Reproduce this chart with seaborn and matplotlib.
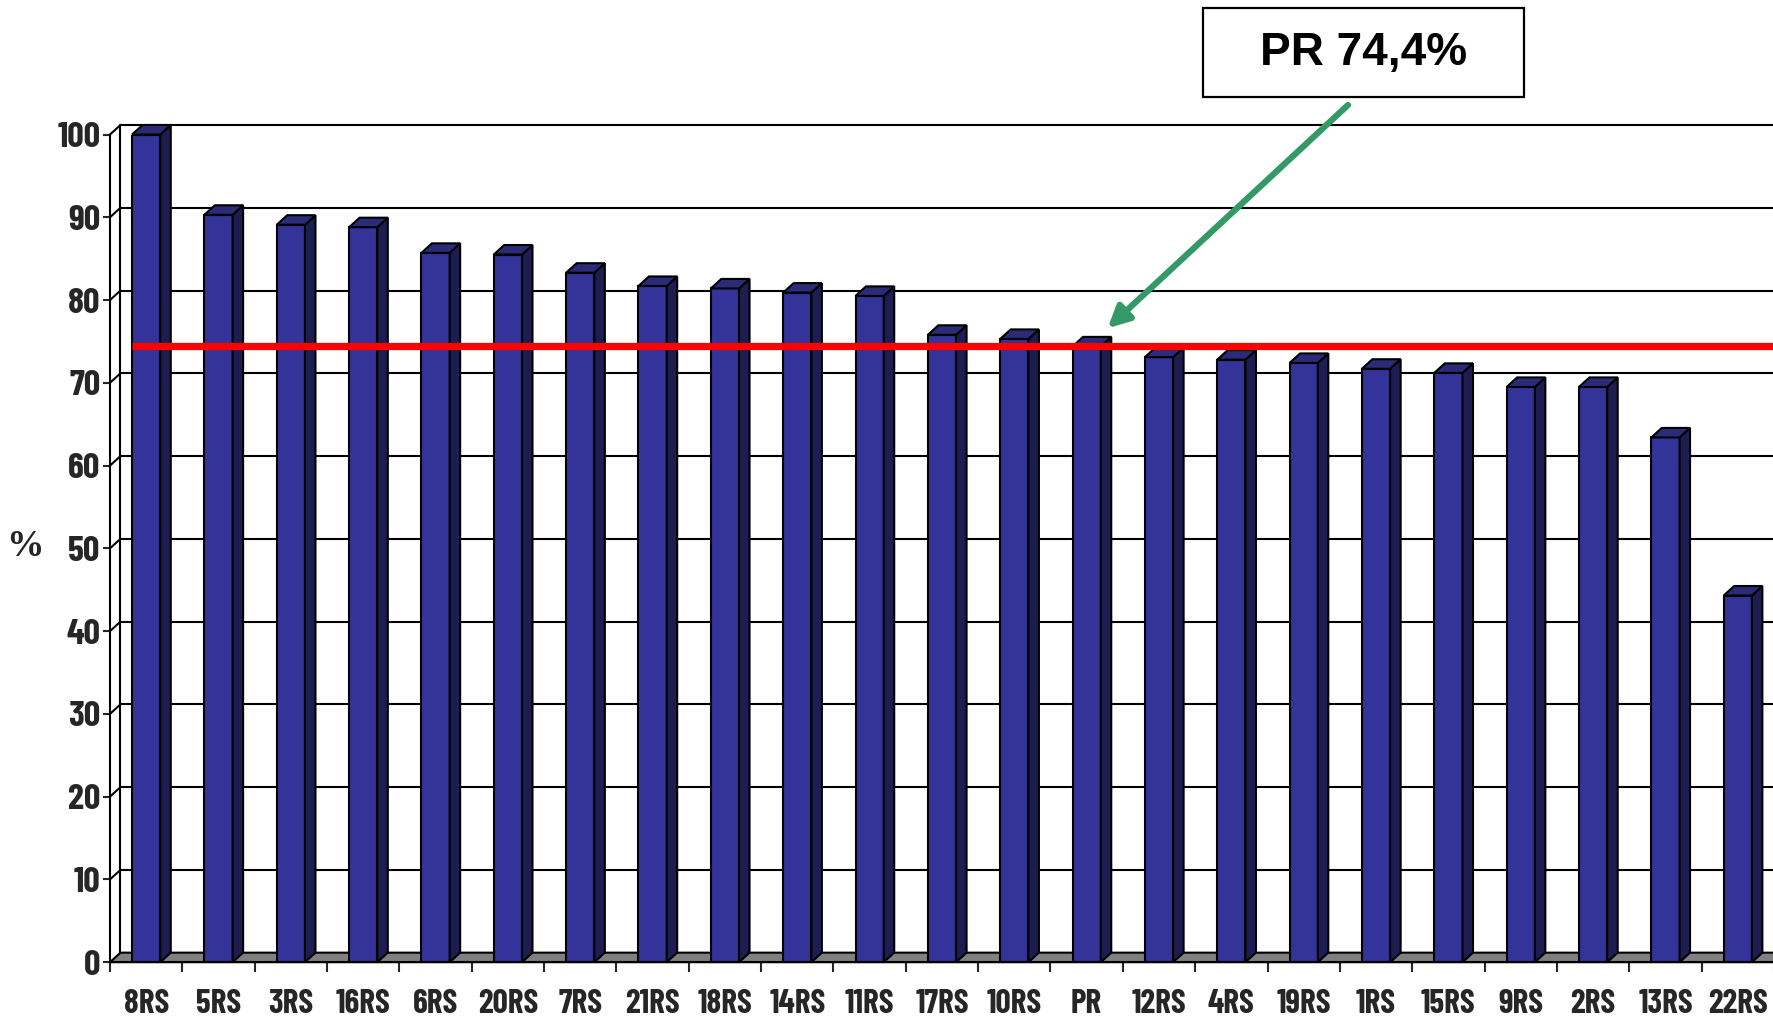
import numpy as np
import pandas as pd
import matplotlib
matplotlib.use("Agg")
import matplotlib.pyplot as plt
from matplotlib.patches import Polygon, Rectangle
import seaborn as sns

# Share of each site, sorted descending; "PR" is the overall regional figure
categories = ["8RS", "5RS", "3RS", "16RS", "6RS", "20RS", "7RS", "21RS", "18RS",
              "14RS", "11RS", "17RS", "10RS", "PR", "12RS", "4RS", "19RS", "1RS",
              "15RS", "9RS", "2RS", "13RS", "22RS"]
values = [100.0, 90.3, 89.1, 88.8, 85.7, 85.5, 83.3, 81.7, 81.4, 80.9, 80.5,
          75.8, 75.3, 74.4, 73.1, 72.8, 72.4, 71.7, 71.2, 69.5, 69.5, 63.4, 44.3]
y_ticks = list(range(0, 101, 10))
pr_value = 74.4
pr_label = "PR 74,4%"
y_label = "%"

df = pd.DataFrame({"site": categories, "value": values})

sns.set_style("white")
narrow = ["Barlow Condensed", "DejaVu Sans"]
plt.rcParams["font.family"] = narrow

FRONT = "#333399"
SIDE = "#1d1d52"
TOP = "#2b2b78"
DX, DY = 0.145, 1.15          # depth offset of the pseudo-3D back plane

fig = plt.figure(figsize=(17.73, 10.26), dpi=100)
ax = fig.add_axes([0.06204, 0.0622, 0.9385, 0.8067])
n = len(categories)

# front faces
sns.barplot(data=df, x="site", y="value", color=FRONT, saturation=1, width=0.39,
            edgecolor="black", linewidth=1.5, ax=ax, zorder=3)
bar_patches = list(ax.patches)
ax.set_xlim(-0.5, n - 0.5)
ax.set_ylim(0, 100)

# back wall, left wall and floor
for t in y_ticks[1:]:
    ax.plot([-0.5 + DX, n - 0.5 + DX], [t + DY, t + DY], color="black",
            lw=1.5, zorder=1, clip_on=False, solid_capstyle="butt")
    ax.plot([-0.5, -0.5 + DX], [t, t + DY], color="black", lw=1.5,
            zorder=1, clip_on=False)
ax.plot([-0.5 + DX, -0.5 + DX], [DY, 100 + DY], color="black", lw=1.5,
        zorder=1, clip_on=False)
ax.add_patch(Polygon([(-0.5, 0), (n - 0.5, 0), (n - 0.5 + DX, DY), (-0.5 + DX, DY)],
                     closed=True, facecolor="#808080", edgecolor="black",
                     lw=1.5, zorder=2, clip_on=False))

# side and top faces
for p in bar_patches:
    x0, w, h = p.get_x(), p.get_width(), p.get_height()
    ax.add_patch(Polygon([(x0 + w, 0), (x0 + w + DX, DY), (x0 + w + DX, h + DY), (x0 + w, h)],
                         closed=True, facecolor=SIDE, edgecolor="black", lw=1.5,
                         zorder=3, clip_on=False, joinstyle="miter"))
    ax.add_patch(Polygon([(x0, h), (x0 + w, h), (x0 + w + DX, h + DY), (x0 + DX, h + DY)],
                         closed=True, facecolor=TOP, edgecolor="black", lw=1.5,
                         zorder=3, clip_on=False, joinstyle="miter"))

# axes, ticks and labels
for s in ["top", "right"]:
    ax.spines[s].set_visible(False)
for s in ["left", "bottom"]:
    ax.spines[s].set_color("black")
    ax.spines[s].set_linewidth(1.5)
    ax.spines[s].set_zorder(4)
ax.set_yticks(y_ticks)
ax.set_yticklabels([str(t) for t in y_ticks], fontsize=26, fontweight="bold")
ax.tick_params(axis="y", direction="out", length=5, width=1.5, pad=2, left=True)
ax.set_xticks(range(n))
ax.set_xticklabels(categories, fontsize=24, fontweight="bold")
ax.set_xticks(np.arange(-0.5, n, 1.0), minor=True)
ax.tick_params(axis="x", which="major", length=0, pad=19)
ax.tick_params(axis="x", which="minor", direction="out", length=7.5, width=1.5, bottom=True)
ax.set_xlabel("")
ax.set_ylabel("")
fig.text(25 / 1773, 1 - 546 / 1026, y_label, ha="center", va="center",
         fontsize=27, fontweight="bold", family=["Liberation Serif", "DejaVu Serif"])
ax.grid(False)

# overall level line
pr_idx = categories.index("PR")
first = bar_patches[0]
ax.hlines(pr_value, xmin=first.get_x(), xmax=n - 0.5, color="red", lw=5.2,
          zorder=5, clip_on=False)

# callout box and arrow
fig.patches.append(Rectangle((1203 / 1773, 1 - 97 / 1026), 321 / 1773, 89 / 1026,
                             transform=fig.transFigure, facecolor="white",
                             edgecolor="black", lw=1.6, zorder=6))
fig.text(1364 / 1773, 1 - 53 / 1026, pr_label, ha="center", va="center",
         fontsize=33, fontweight="bold", family=["Liberation Sans", "DejaVu Sans"],
         color="black", zorder=7)
ax.annotate("", xy=(pr_idx + 0.29, pr_value + 2.2),
            xytext=(1348 / 1773, 1 - 105 / 1026), textcoords="figure fraction",
            arrowprops=dict(arrowstyle="-|>", color="#339966", lw=4.5,
                            mutation_scale=32, shrinkA=0, shrinkB=0),
            zorder=6, annotation_clip=False)

fig.savefig("out.png", dpi=100)
